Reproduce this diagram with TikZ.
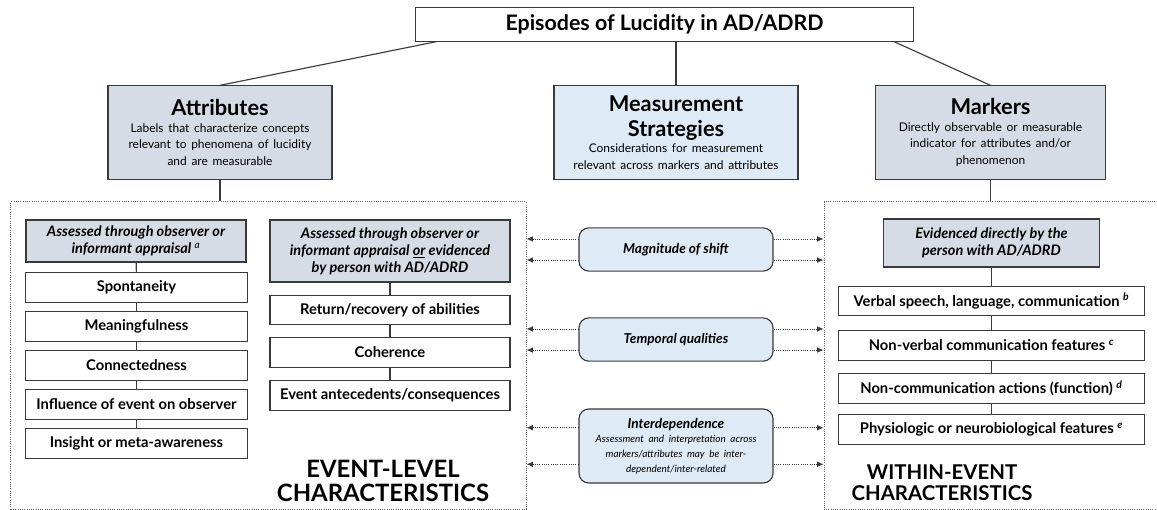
\documentclass[tikz,border=0pt]{standalone}
\usepackage{fontspec}
\setmainfont{Lato}
\usetikzlibrary{arrows.meta}
\definecolor{headfill}{HTML}{D6DCE5}
\definecolor{stratfill}{HTML}{DEEAF6}
\definecolor{edge}{HTML}{3A3A3A}
\newcommand{\bigfont}{\fontsize{15.5}{18}\selectfont\bfseries}
\newcommand{\descfont}{\fontsize{8.5}{11.8}\selectfont}

\begin{document}
\begin{tikzpicture}[x=0.025cm, y=-0.025cm,
box/.style={draw=edge, line width=0.8pt, rectangle, inner sep=1pt, align=center},
topbox/.style={box, fill=headfill, minimum height=2.33cm},
subhead/.style={box, fill=headfill, font=\fontsize{10.3}{12}\selectfont\bfseries\itshape},
item/.style={box, fill=white, minimum height=0.73cm, font=\fontsize{10.5}{12}\selectfont\bfseries},
strat/.style={box, fill=stratfill, rounded corners=7pt, minimum width=4.85cm, font=\fontsize{9.7}{12}\selectfont\bfseries\itshape},
frame/.style={draw=edge!80, densely dotted, line width=0.6pt, rectangle, inner sep=0pt},
link/.style={draw=edge, line width=0.8pt},
dotarrow/.style={draw=edge, densely dotted, line width=0.6pt, -{Latex[length=4.5pt,width=4pt]}}
]
\path[use as bounding box, fill=white] (0,0) rectangle (1157,510);
\clip (0,0) rectangle (1157,510);

% top level
\node[box, minimum width=12.43cm, minimum height=0.83cm, font=\fontsize{15.2}{17}\selectfont\bfseries] (title) at (664.5,24.5) {Episodes of Lucidity in AD/ADRD};

\node[topbox, minimum width=5.6cm, text width=5.3cm] (attr) at (220,132.5) {{\bigfont Attributes\par}{\descfont Labels that characterize concepts\\ relevant to phenomena of lucidity\\ and are measurable\par}};
\node[topbox, fill=stratfill, minimum width=6.1cm, text width=5.8cm] (meas) at (676,132.5) {{\bigfont Measurement\\ Strategies\par}{\descfont Considerations for measurement\\ relevant across markers and attributes\par}};
\node[topbox, minimum width=5.73cm, text width=5.4cm] (mark) at (990.5,132.5) {{\bigfont Markers\par}{\descfont Directly observable or measurable\\ indicator for attributes and/or\\ phenomenon\par}};

\draw[link] ([xshift=15pt]title.south west) -- (attr.north);
\draw[link] (meas.north) -- (meas.north |- title.south);
\draw[link] ([xshift=-14pt]title.south east) -- (mark.north);

% dotted frames
\node[frame, minimum width=12.88cm, minimum height=7.68cm] (evbox) at (268.5,355.5) {};
\node[frame, minimum width=8.65cm, minimum height=7.68cm] (wibox) at (997,355.5) {};
\draw[link] (attr.south) -- (attr.south |- evbox.north);
\draw[link] (mark.south) -- (mark.south |- wibox.north);

% event-level column 1
\node[subhead, minimum width=5.5cm, minimum height=1.05cm] (lhead) at (136,241) {Assessed through observer or\\ informant appraisal \textsuperscript{\mdseries a}};
\node[item, minimum width=5.53cm] (l1) at (136.5,287.5) {Spontaneity};
\node[item, minimum width=5.53cm] (l2) at (136.5,326.5) {Meaningfulness};
\node[item, minimum width=5.53cm] (l3) at (136.5,365.5) {Connectedness};
\node[item, minimum width=5.53cm] (l4) at (136.5,404.5) {Influence of event on observer};
\node[item, minimum width=5.53cm] (l5) at (136.5,443.5) {Insight or meta-awareness};

% event-level column 2
\node[subhead, minimum width=6cm, minimum height=1.55cm] (mhead) at (390,251) {Assessed through observer or\\ informant appraisal \underline{or} evidenced\\ by person with AD/ADRD};
\node[item, minimum width=6cm] (m1) at (390,310) {Return/recovery of abilities};
\node[item, minimum width=6cm] (m2) at (390,352.5) {Coherence};
\node[item, minimum width=6cm] (m3) at (390,395.5) {Event antecedents/consequences};

% within-event column
\node[subhead, minimum width=5.38cm, minimum height=1.2cm] (rhead) at (991.5,243) {Evidenced directly by the\\ person with AD/ADRD};
\node[item, minimum width=7.63cm] (r1) at (991.5,301) {Verbal speech, language, communication \textsuperscript{\itshape b}};
\node[item, minimum width=7.63cm] (r2) at (991.5,345.5) {Non-verbal communication features \textsuperscript{\itshape c}};
\node[item, minimum width=7.63cm] (r3) at (991.5,388.5) {Non-communication actions (function) \textsuperscript{\itshape d}};
\node[item, minimum width=7.63cm] (r4) at (991.5,429.5) {Physiologic or neurobiological features \textsuperscript{\itshape e}};

\foreach \a/\b in {lhead/l1, l1/l2, l2/l3, l3/l4, l4/l5, mhead/m1, m1/m2, m2/m3, rhead/r1, r1/r2, r2/r3, r3/r4}
  \draw[link] (\a) -- (\b);

% strategies
\node[strat, minimum height=1.08cm] (mag) at (676,249.5) {Magnitude of shift};
\node[strat, minimum height=1.08cm] (temp) at (676,339.5) {Temporal qualities};
\node[strat, minimum height=1.85cm, text width=4.6cm] (inter) at (676,446) {Interdependence\par{\mdseries\fontsize{7.1}{10.4}\selectfont Assessment and interpretation across\\ markers/attributes may be inter-\\ dependent/inter-related\par}};

\foreach \b/\s in {mag/7.5pt, mag/-7.5pt, temp/7.5pt, temp/-7.5pt, inter/13pt, inter/-13pt}{
  \coordinate (p) at ([yshift=\s]\b.west);
  \coordinate (q) at ([yshift=\s]\b.east);
  \draw[dotarrow] (p) -- (p -| evbox.east);
  \draw[dotarrow] (q) -- (q -| wibox.west);
}

% section labels
\node[align=center, font=\fontsize{17}{17}\selectfont\bfseries] (evlab) at (383,481) {EVENT-LEVEL\\ CHARACTERISTICS};
\node[align=center, font=\fontsize{14.5}{15}\selectfont\bfseries] (wilab) at (942,483) {WITHIN-EVENT\\ CHARACTERISTICS};
\end{tikzpicture}
\end{document}
